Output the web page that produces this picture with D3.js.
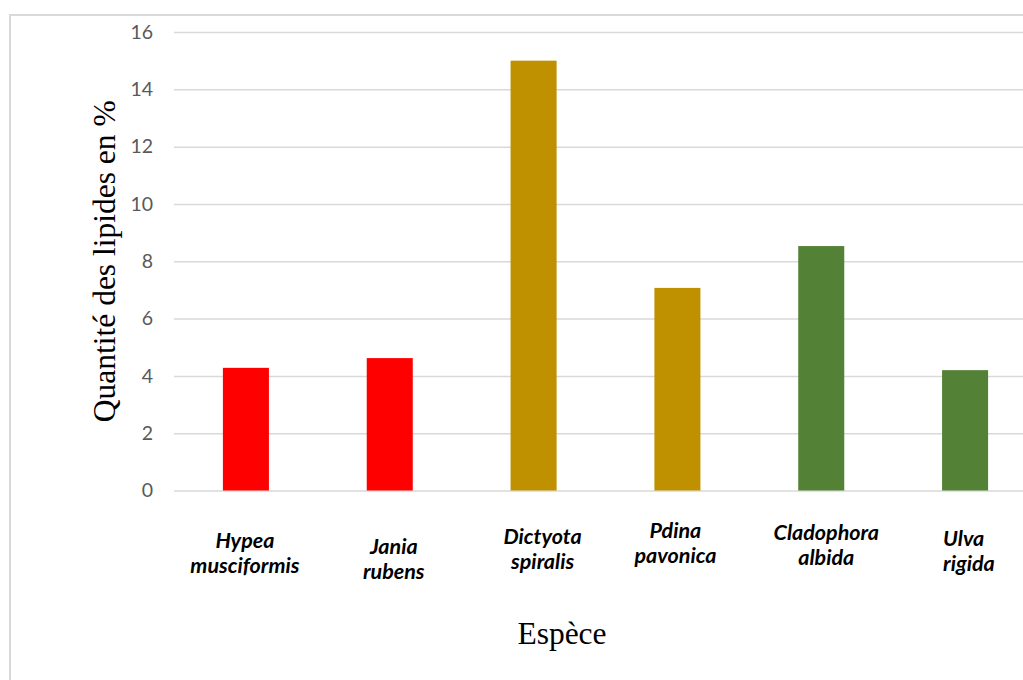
<!DOCTYPE html>
<html>
<head>
<meta charset="utf-8">
<script src="https://cdn.jsdelivr.net/npm/d3@7"></script>
<style>
  html, body { margin: 0; padding: 0; background: #fff; }
  svg { display: block; }
</style>
</head>
<body>
<svg id="chart" width="1023" height="680"></svg>
<script>
// Lipid content (%) per algal species
const species = [
  ["Hypea", "musciformis"],
  ["Jania", "rubens"],
  ["Dictyota", "spiralis"],
  ["Pdina", "pavonica"],
  ["Cladophora", "albida"],
  ["Ulva", "rigida"]
];
const lipids = [4.28, 4.62, 15.0, 7.07, 8.53, 4.2];
const groups = ["rouge", "rouge", "brune", "brune", "verte", "verte"];
const yTicks = [0, 2, 4, 6, 8, 10, 12, 14, 16];

const groupColor = { rouge: "#ff0000", brune: "#bf9000", verte: "#538135" };

// category labels sit as hand-placed text boxes under each bar
const labelLayout = [
  { dx: -1, y: 548, anchor: "middle" },
  { dx: 4, y: 554, anchor: "middle" },
  { dx: 9, y: 544, anchor: "middle" },
  { dx: -2, y: 538, anchor: "middle" },
  { dx: 5, y: 540, anchor: "middle" },
  { dx: -22, y: 546, anchor: "start" }
];

const svg = d3.select("#chart");

// outer chart-area frame
svg.append("rect")
  .attr("x", 10).attr("y", 15)
  .attr("width", 1100).attr("height", 800)
  .attr("fill", "#fff")
  .attr("stroke", "#d9d9d9").attr("stroke-width", 2);

const plot = { left: 174, right: 1037, top: 32, bottom: 490.5 };

const x = d3.scaleBand()
  .domain(d3.range(species.length))
  .range([plot.left, plot.right])
  .paddingInner(0.68).paddingOuter(0.34);

const y = d3.scaleLinear().domain([0, 16]).range([plot.bottom, plot.top]);

// horizontal gridlines
const yAxis = d3.axisLeft(y).tickValues(yTicks)
  .tickSize(-(plot.right - plot.left)).tickPadding(21)
  .tickFormat(d3.format("d"));

const gy = svg.append("g")
  .attr("transform", `translate(${plot.left},0)`)
  .call(yAxis);
gy.select(".domain").remove();
gy.selectAll(".tick line").attr("stroke", "#d9d9d9").attr("stroke-width", 1.5);
gy.selectAll(".tick text")
  .attr("fill", "#595959")
  .attr("font-family", "Lato, 'Open Sans', sans-serif")
  .attr("font-size", 19.5);

// bars
svg.append("g").selectAll("rect")
  .data(lipids)
  .join("rect")
  .attr("x", (d, i) => x(i))
  .attr("width", x.bandwidth())
  .attr("y", d => y(d))
  .attr("height", d => y(0) - y(d))
  .attr("fill", (d, i) => groupColor[groups[i]]);

// species names (two lines, bold italic)
const lab = svg.append("g").selectAll("text")
  .data(species)
  .join("text")
  .attr("font-family", "Lato, 'Open Sans', sans-serif")
  .attr("font-size", 21.5)
  .attr("font-weight", "bold")
  .attr("font-style", "italic")
  .attr("fill", "#000")
  .attr("text-anchor", (d, i) => labelLayout[i].anchor)
  .attr("transform", (d, i) =>
    `translate(${x(i) + x.bandwidth() / 2 + labelLayout[i].dx},${labelLayout[i].y})`);

lab.selectAll("tspan")
  .data(d => d)
  .join("tspan")
  .attr("x", 0)
  .attr("dy", (d, j) => j === 0 ? 0 : 25)
  .text(d => d);

// axis titles
svg.append("text")
  .attr("transform", `translate(115,${(plot.top + plot.bottom) / 2}) rotate(-90)`)
  .attr("text-anchor", "middle")
  .attr("font-family", "'Liberation Serif', 'Times New Roman', serif")
  .attr("font-size", 31.5)
  .attr("fill", "#000")
  .text("Quantité des lipides en %");

svg.append("text")
  .attr("x", 562).attr("y", 644)
  .attr("text-anchor", "middle")
  .attr("font-family", "'Liberation Serif', 'Times New Roman', serif")
  .attr("font-size", 31.5)
  .attr("fill", "#000")
  .text("Espèce");
</script>
</body>
</html>
